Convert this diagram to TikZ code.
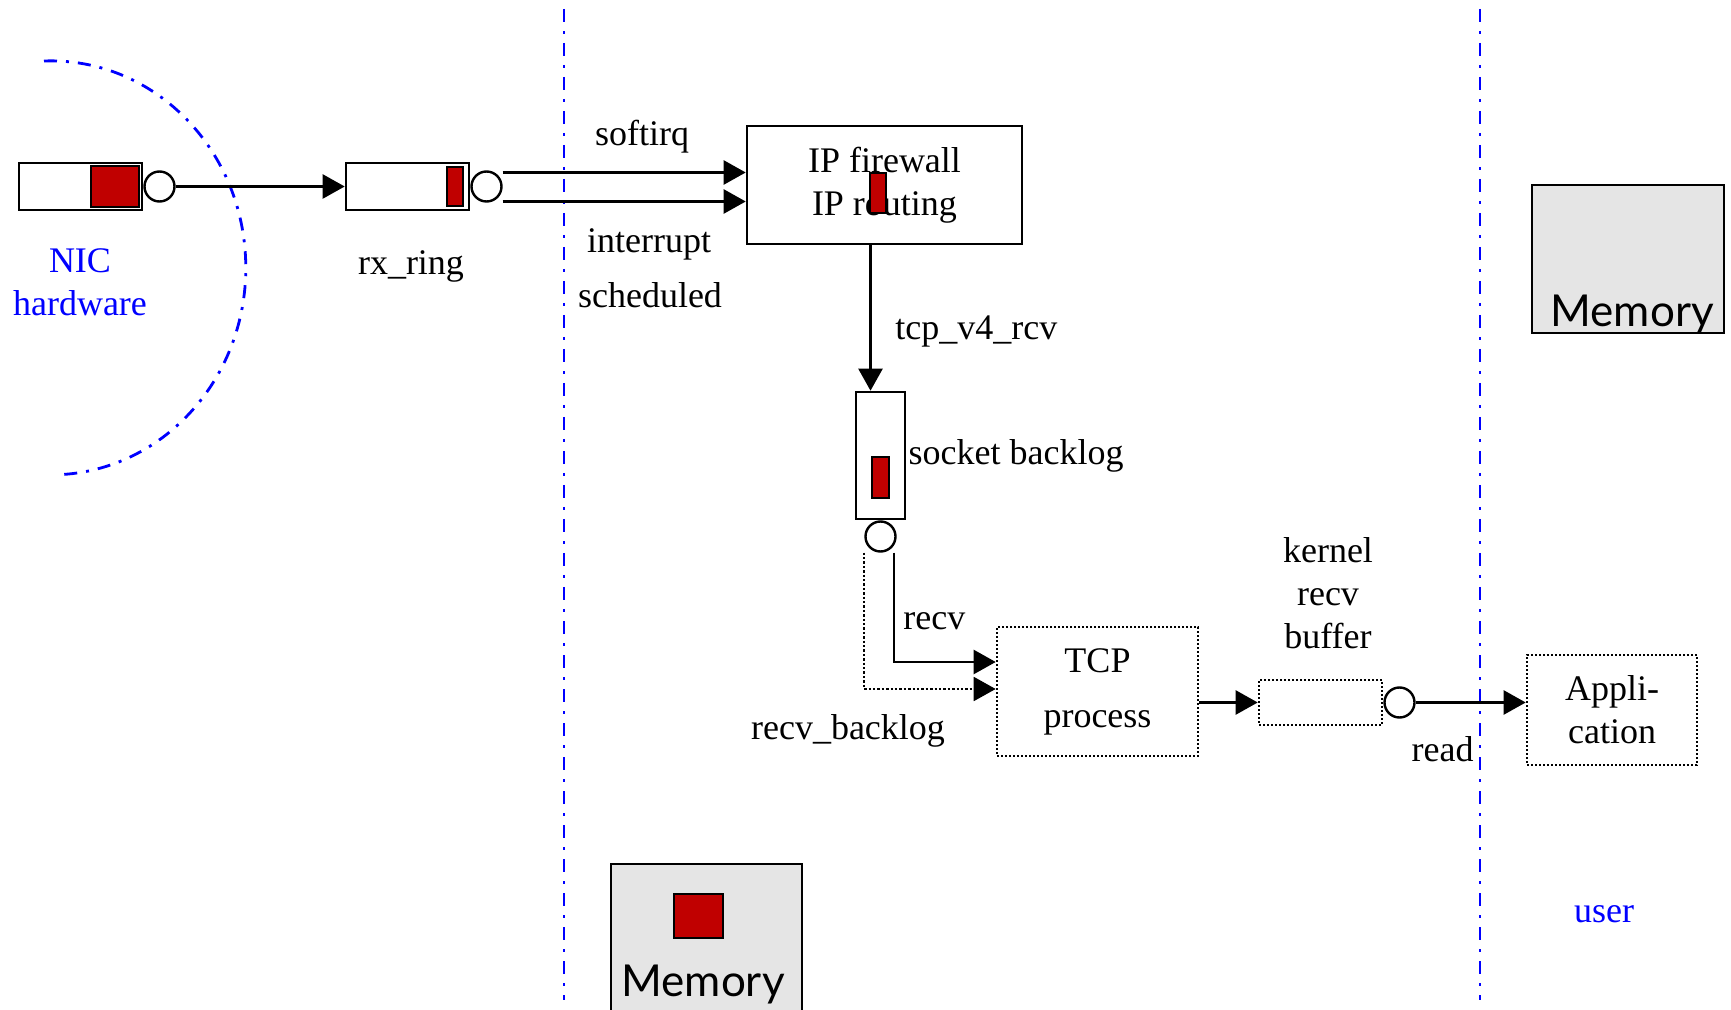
\documentclass[tikz,border=0pt]{standalone}
\usepackage{fontspec}
\setmainfont{Liberation Serif}
\newfontfamily\memfont{Lato}
\usetikzlibrary{positioning}
\usetikzlibrary{arrows.meta}
\definecolor{pktred}{RGB}{192,0,0}
\definecolor{memgray}{RGB}{229,229,229}

\begin{document}
\begin{tikzpicture}[x=1pt,y=-1pt,
  font=\fontsize{18}{21.5}\selectfont,
  box/.style={draw,line width=1.3pt,inner sep=0pt},
  dotbox/.style={box,dash pattern=on 1pt off 1pt},
  pkt/.style={draw,line width=1pt,fill=pktred,inner sep=0pt},
  head/.style={draw,circle,line width=1.2pt,minimum size=15pt,inner sep=0pt},
  flow/.style={line width=1.2pt,-{Triangle[length=11pt,width=12pt]}},
  bound/.style={blue,line width=1.4pt,dash pattern=on 6.5pt off 4.5pt on 1.5pt off 4.5pt},
  memory/.style={draw,line width=1.2pt,fill=memgray,inner sep=0pt},
  lbl/.style={inner sep=0pt,align=center},
]
  \useasboundingbox (0,0) rectangle (865.5,505);

  % kernel / user boundaries
  \draw[bound] (22,30.5) arc[start angle=-92,end angle=88,x radius=97.5,y radius=103.5];
  \draw[bound] (282,4.5) -- (282,500);
  \draw[bound] (740,4.5) -- (740,500);

  % NIC queue
  \node[box,minimum width=61.5pt,minimum height=23.5pt] (nicq) at (40.25,93.25) {};
  \node[pkt,minimum width=24pt,minimum height=20.5pt,anchor=east] (nicp) at ([xshift=-1.5pt]nicq.east) {};
  \node[head,right=0pt of nicq] (nicc) {};
  \node[lbl,blue] (nic) at (40,141) {NIC\\hardware};

  % rx ring
  \node[box,minimum width=61.5pt,minimum height=23.5pt] (rxq) at (203.75,93.25) {};
  \node[pkt,minimum width=8pt,minimum height=19.5pt,anchor=east] (rxp) at ([xshift=-3pt]rxq.east) {};
  \node[head,right=0pt of rxq] (rxc) {};
  \node[lbl] (rxl) at (205.5,133) {rx\_ring};
  \draw[flow] (nicc.east) -- (nicc.east -| rxq.west);

  % IP layer
  \node[box,lbl,minimum width=137.5pt,minimum height=59pt] (ip) at (442.25,92.5) {IP firewall\\IP routing};
  \node[pkt,minimum width=8pt,minimum height=20pt] (ipp) at (439,96.5) {};
  \draw[flow] ([yshift=7pt]rxc.east) -- ([yshift=7pt]rxc.east -| ip.west);
  \draw[flow] ([yshift=-7.5pt]rxc.east) -- ([yshift=-7.5pt]rxc.east -| ip.west);
  \node[lbl] (soft) at (321,68.5) {softirq};
  \node[lbl] (intr) at (324.5,122) {interrupt};
  \node[lbl] (sched) at (325,147.5) {scheduled};

  % socket backlog
  \node[box,minimum width=24.5pt,minimum height=63.5pt] (sb) at (440.25,227.75) {};
  \node[pkt,minimum width=8.5pt,minimum height=20.5pt] (sbp) at (440.25,238.75) {};
  \node[head,below=0pt of sb] (sbc) {};
  \node[lbl,right=1pt of sb] (sbl) {socket backlog};
  \draw[flow] ([xshift=-5pt]sb.north |- ip.south) -- ([xshift=-5pt]sb.north);
  \node[lbl,anchor=west] (v4) at (447.5,165.5) {tcp\_v4\_rcv};

  % TCP
  \node[dotbox,lbl,minimum width=100.5pt,minimum height=64.5pt] (tcp) at (548.75,345.75) {TCP\\[6pt]process};
  \draw[flow] ([xshift=6.75pt]sbc.south) |- ([yshift=14.75pt]tcp.west);
  \draw[flow,densely dotted,line width=0.9pt] ([xshift=-8.25pt]sbc.south) |- ([yshift=1.25pt]tcp.west);
  \node[lbl,anchor=west] (recv) at (451.5,310.5) {recv};
  \node[lbl] (rbl) at (424,365.5) {recv\_backlog};

  % receive buffer and application
  \node[dotbox,minimum width=61.5pt,minimum height=22.5pt] (kbuf) at (660.25,351.25) {};
  \node[head,right=0pt of kbuf] (kbc) {};
  \node[lbl] (kbl) at (664,296.5) {kernel\\recv\\buffer};
  \draw[flow] (tcp.east |- kbuf.west) -- (kbuf.west);
  \node[dotbox,lbl,minimum width=85pt,minimum height=55pt] (app) at (806,355) {Appli-\\cation};
  \draw[flow] (kbc.east) -- (kbc.east -| app.west);
  \node[lbl,anchor=east] (rd) at (737,374.5) {read};
  \node[lbl,blue] (usr) at (802,457) {user};

  % memory
  \node[memory,minimum width=96pt,minimum height=74pt] (mem1) at (814,129.5) {};
  \node[anchor=base,inner sep=0pt,font=\memfont\fontsize{22}{26}\selectfont] at (816,163.5) {Memory};
  \node[memory,minimum width=95.5pt,minimum height=80pt,anchor=north west] (mem2) at (305,431.5) {};
  \node[pkt,minimum width=24.5pt,minimum height=22pt] (memp) at (349.25,458) {};
  \node[anchor=base,inner sep=0pt,font=\memfont\fontsize{22}{26}\selectfont] at (351.5,498) {Memory};
\end{tikzpicture}
\end{document}
